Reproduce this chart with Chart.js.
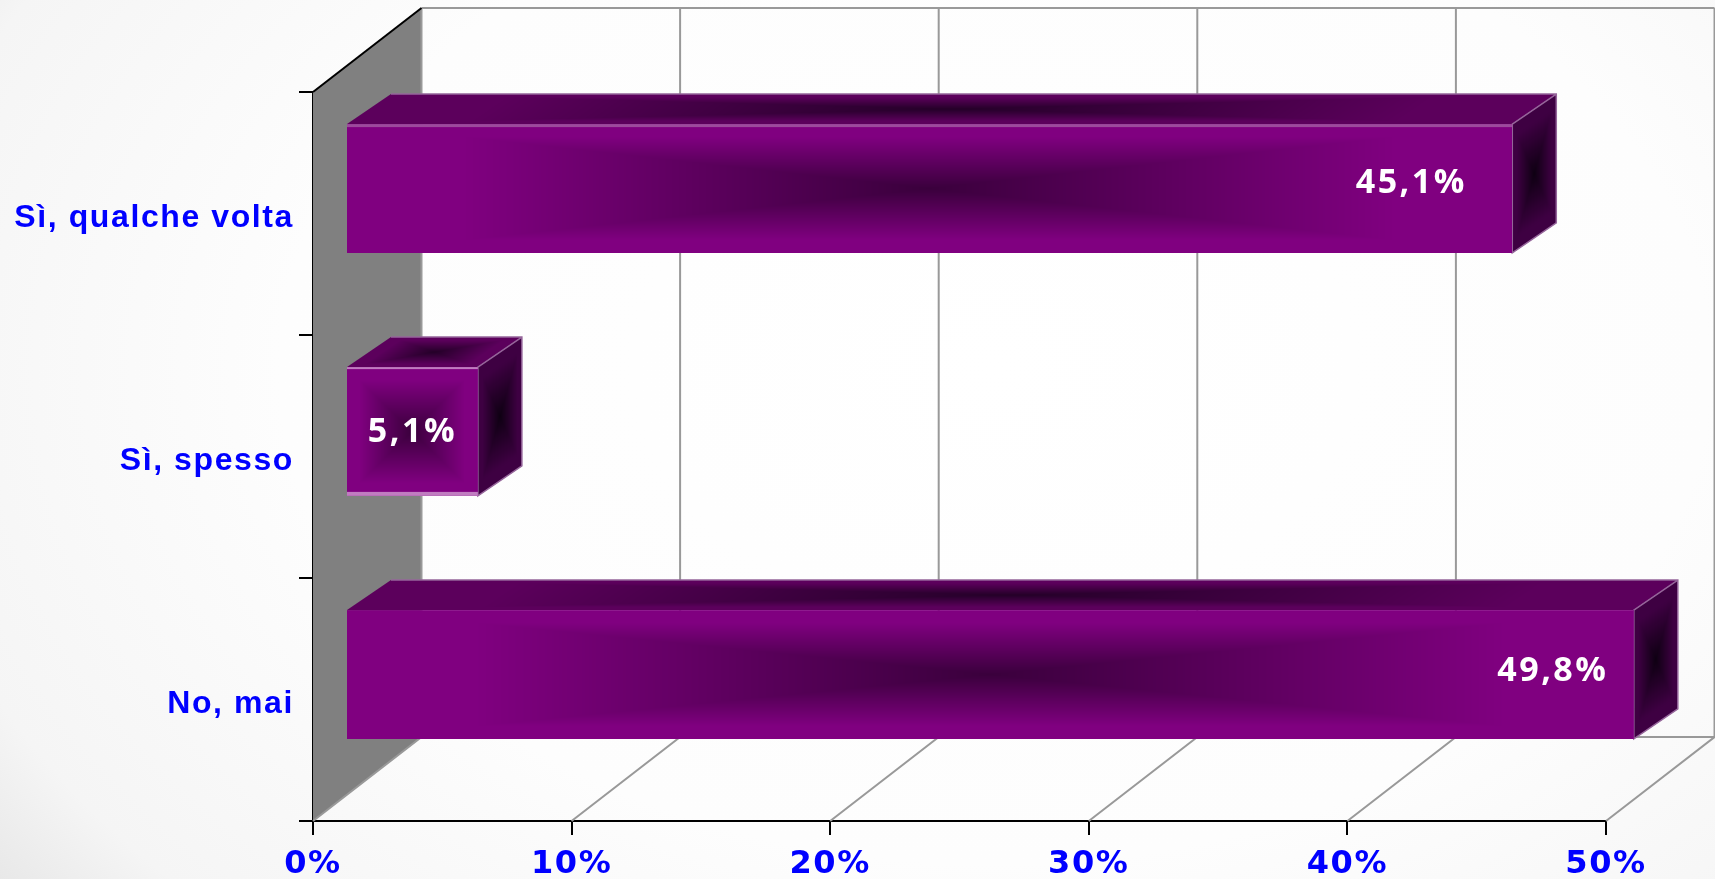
<!DOCTYPE html>
<html lang="it">
<head>
<meta charset="utf-8">
<title>Sì, qualche volta</title>
<script src="https://cdn.jsdelivr.net/npm/chart.js@4/dist/chart.umd.min.js"></script>
<style>
    html, body { margin: 0; padding: 0; width: 1715px; height: 879px; overflow: hidden; }
    body { background: radial-gradient(ellipse 1300px 900px at 58% 42%, #ffffff 0%, #fdfdfd 55%, #f5f5f5 85%, #e2e2e2 100%); }
    canvas { display: block; }
</style>
</head>
<body>
<canvas id="bar-3d" width="1715" height="879"></canvas>
<script>
const categories = ['Sì, qualche volta', 'Sì, spesso', 'No, mai'];
const percentages = [45.1, 5.1, 49.8];
const percentTicks = [0, 10, 20, 30, 40, 50];

// depth of the 3d box and of the bars inside it, in pixels
const BOX_DX = 108.5, BOX_DY = 84;
const BAR_SHIFT_X = 33, BAR_SHIFT_Y = -25;
const BAR_DX = 44, BAR_DY = 30;

const FRONT = [[128, 0, 128], [58, 0, 60]];
const TOP = [[92, 0, 92], [36, 0, 40]];
const SIDE = [[62, 0, 66], [14, 0, 18]];

// rectangle shaped gradient: dark centre, bright edges
function shadedFace(w, h, colors) {
    const off = document.createElement('canvas');
    off.width = Math.max(1, Math.round(w));
    off.height = Math.max(1, Math.round(h));
    const offCtx = off.getContext('2d');
    const img = offCtx.createImageData(off.width, off.height);
    for (let y = 0; y < off.height; y++) {
        for (let x = 0; x < off.width; x++) {
            const u = Math.abs((x + 0.5) / off.width * 2 - 1);
            const v = Math.abs((y + 0.5) / off.height * 2 - 1);
            const t = Math.min(1, Math.max(u, v) / 0.8);
            const i = (y * off.width + x) * 4;
            for (let c = 0; c < 3; c++) {
                img.data[i + c] = colors[1][c] + (colors[0][c] - colors[1][c]) * t;
            }
            img.data[i + 3] = 255;
        }
    }
    offCtx.putImageData(img, 0, 0);
    return off;
}

function frontFill(context) {
    const chart = context.chart;
    if (context.dataIndex === undefined || !chart.chartArea) return 'rgb(128,0,128)';
    const xScale = chart.scales.x;
    const left = xScale.getPixelForValue(0);
    const right = xScale.getPixelForValue(percentages[context.dataIndex]);
    const center = chart.scales.y.getPixelForValue(context.dataIndex);
    const thick = chart.scales.y.getPixelForValue(1) - chart.scales.y.getPixelForValue(0);
    const h = thick * 0.53;
    const pattern = chart.ctx.createPattern(shadedFace(right - left, h, FRONT), 'no-repeat');
    pattern.setTransform(new DOMMatrix().translate(left, center - h / 2));
    return pattern;
}

const box3d = {
    id: 'box3d',
    beforeDraw(chart) {
        chart.ctx.letterSpacing = '1.6px';
    },
    beforeDatasetsDraw(chart) {
        const { ctx, chartArea: a, scales } = chart;
        ctx.save();
        // left wall
        ctx.fillStyle = '#808080';
        ctx.beginPath();
        ctx.moveTo(a.left, a.top);
        ctx.lineTo(a.left + BOX_DX, a.top - BOX_DY);
        ctx.lineTo(a.left + BOX_DX, a.bottom - BOX_DY);
        ctx.lineTo(a.left, a.bottom);
        ctx.closePath();
        ctx.fill();

        // back wall and floor grid
        ctx.strokeStyle = '#999999';
        ctx.lineWidth = 2;
        ctx.beginPath();
        ctx.moveTo(a.left + BOX_DX, a.top - BOX_DY);
        ctx.lineTo(a.right + BOX_DX, a.top - BOX_DY);
        ctx.moveTo(a.left + BOX_DX, a.bottom - BOX_DY);
        ctx.lineTo(a.right + BOX_DX, a.bottom - BOX_DY);
        percentTicks.forEach((tick) => {
            const x = scales.x.getPixelForValue(tick);
            ctx.moveTo(x, a.bottom);
            ctx.lineTo(x + BOX_DX, a.bottom - BOX_DY);
            ctx.lineTo(x + BOX_DX, a.top - BOX_DY);
        });
        ctx.stroke();

        // black edge on top of the left wall
        ctx.strokeStyle = '#000000';
        ctx.beginPath();
        ctx.moveTo(a.left, a.top);
        ctx.lineTo(a.left + BOX_DX, a.top - BOX_DY);
        ctx.stroke();
        ctx.restore();
    },
    beforeDatasetDraw(chart, args) {
        const { ctx } = chart;
        ctx.save();
        ctx.translate(BAR_SHIFT_X, BAR_SHIFT_Y);
        args.meta.data.forEach((bar) => {
            const left = bar.base;
            const right = bar.x;
            const top = bar.y - bar.height / 2;
            const bottom = bar.y + bar.height / 2;
            const w = right - left;

            const topFace = shadedFace(w, BAR_DY, TOP);
            ctx.save();
            ctx.transform(w / topFace.width, 0, -BAR_DX / topFace.height, 1, left + BAR_DX, top - BAR_DY);
            ctx.drawImage(topFace, 0, 0);
            ctx.restore();

            const sideFace = shadedFace(BAR_DX, bar.height, SIDE);
            ctx.save();
            ctx.transform(1, -BAR_DY / BAR_DX, 0, 1, right, top);
            ctx.drawImage(sideFace, 0, 0);
            ctx.restore();

            ctx.strokeStyle = '#95659a';
            ctx.lineWidth = 1.5;
            ctx.beginPath();
            ctx.moveTo(left + BAR_DX, top - BAR_DY);
            ctx.lineTo(right + BAR_DX, top - BAR_DY);
            ctx.lineTo(right + BAR_DX, bottom - BAR_DY);
            ctx.lineTo(right, bottom);
            ctx.lineTo(right, top);
            ctx.lineTo(right + BAR_DX, top - BAR_DY);
            ctx.stroke();
        });
    },
    afterDatasetDraw(chart, args, opts) {
        const { ctx } = chart;
        // light rims along the front faces
        args.meta.data.forEach((bar, i) => {
            const left = bar.base;
            const top = bar.y - bar.height / 2;
            const bottom = bar.y + bar.height / 2;
            const rim = opts.rims[i];
            ctx.fillStyle = rim.color;
            ctx.fillRect(left, top, bar.x - left, rim.top);
            ctx.fillRect(left, bottom - rim.bottom, bar.x - left, rim.bottom);
        });
        ctx.restore();
    },
    afterDatasetsDraw(chart, args, opts) {
        const { ctx } = chart;
        const meta = chart.getDatasetMeta(0);
        ctx.save();
        ctx.fillStyle = '#ffffff';
        ctx.font = '700 34px "Open Sans"';
        ctx.letterSpacing = '2.5px';
        ctx.textAlign = 'center';
        ctx.textBaseline = 'middle';
        meta.data.forEach((bar, i) => {
            const text = percentages[i].toFixed(1).replace('.', ',') + '%';
            const x = i === 1
                ? (bar.base + bar.x) / 2 + BAR_SHIFT_X
                : bar.x + BAR_SHIFT_X - opts.labelInset[i];
            ctx.fillText(text, x, bar.y + BAR_SHIFT_Y + opts.labelLift[i]);
        });
        ctx.restore();
    },
};

new Chart(document.getElementById('bar-3d'), {
    type: 'bar',
    plugins: [box3d],
    data: {
        labels: categories,
        datasets: [
            {
                data: percentages,
                backgroundColor: frontFill,
                borderWidth: 0,
                barPercentage: 1,
                categoryPercentage: 0.53,
                clip: false,
            },
        ],
    },
    options: {
        indexAxis: 'y',
        responsive: false,
        animation: false,
        layout: { padding: { top: 92, right: 109 } },
        plugins: {
            legend: { display: false },
            tooltip: { enabled: false },
            box3d: {
                labelInset: [101, 0, 81],
                labelLift: [-5, 1, -3],
                rims: [
                    { color: '#9c4a9c', top: 3, bottom: 0 },
                    { color: '#c07cc0', top: 2, bottom: 4 },
                    { color: '#800080', top: 0, bottom: 0 },
                ],
            },
        },
        scales: {
            x: {
                min: 0,
                max: 50,
                afterFit: (scale) => { scale.height = 58; },
                afterBuildTicks: (scale) => { scale.ticks = percentTicks.map((value) => ({ value })); },
                grid: { drawOnChartArea: false, color: '#000000', lineWidth: 2, tickLength: 14 },
                border: { color: '#000000', width: 2 },
                ticks: {
                    callback: (value) => value + '%',
                    color: '#0000ff',
                    font: { family: '"DejaVu Sans"', weight: 'bold', size: 32 },
                    padding: 10,
                    maxRotation: 0,
                    autoSkip: false,
                },
            },
            y: {
                afterFit: (scale) => { scale.width = 313; },
                grid: { offset: true, drawOnChartArea: false, color: '#000000', lineWidth: 2, tickLength: 14 },
                border: { color: '#000000', width: 2 },
                ticks: {
                    // empty first line pushes the text a little below the band centre
                    callback: (value, index) => ['', categories[index]],
                    color: '#0000ff',
                    font: { family: '"Liberation Sans"', weight: 'bold', size: 32, lineHeight: 0.27 },
                    padding: 5,
                },
            },
        },
    },
});
</script>
</body>
</html>
